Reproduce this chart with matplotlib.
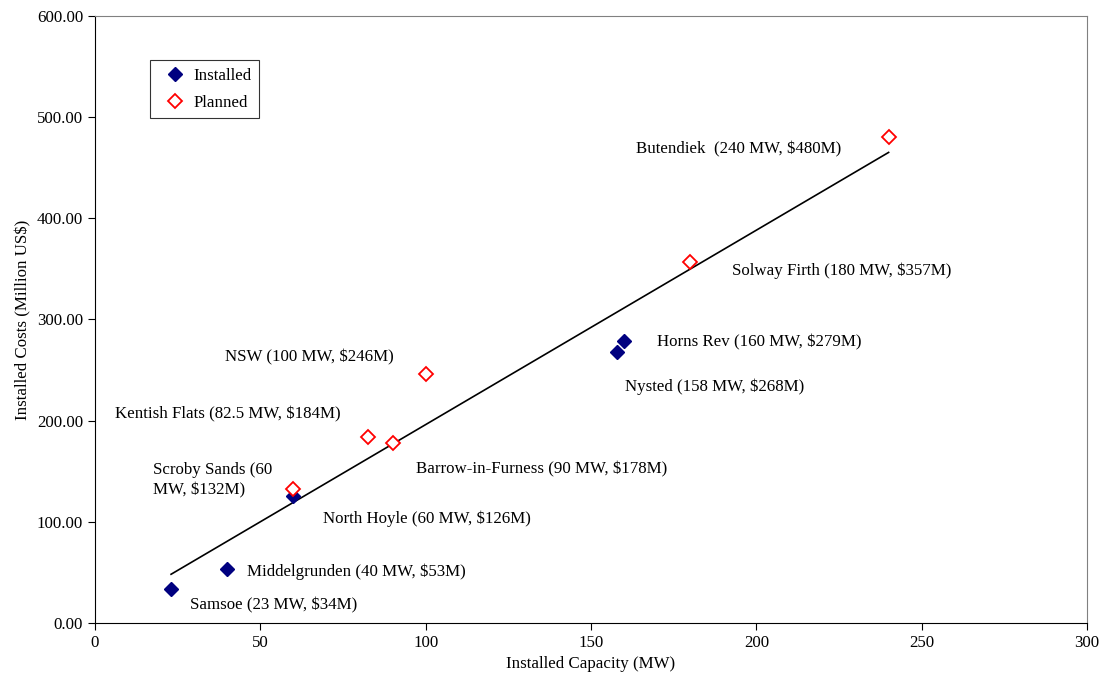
import matplotlib.pyplot as plt
import numpy as np

plt.rcParams['font.family'] = ['Liberation Serif', 'DejaVu Serif']

# installed wind farms
inst_cap = [23, 40, 60, 158, 160]
inst_cost = [34, 53, 126, 268, 279]

# planned wind farms
plan_cap = [60, 82.5, 90, 100, 180, 240]
plan_cost = [132, 184, 178, 246, 357, 480]

# labels: text, x, y (data coords of left edge / vertical centre)
labels = [
    ("Samsoe (23 MW, $34M)", 28.7, 17.8),
    ("Middelgrunden (40 MW, $53M)", 46, 50.4),
    ("North Hoyle (60 MW, $126M)", 68.9, 102.8),
    ("Nysted (158 MW, $268M)", 160.3, 233.3),
    ("Horns Rev (160 MW, $279M)", 170, 277.8),
    ("Scroby Sands (60\nMW, $132M)", 17.5, 141.3),
    ("Kentish Flats (82.5 MW, $184M)", 6, 206.6),
    ("Barrow-in-Furness (90 MW, $178M)", 97, 152),
    ("NSW (100 MW, $246M)", 39.3, 263),
    ("Solway Firth (180 MW, $357M)", 192.6, 348),
    ("Butendiek  (240 MW, $480M)", 163.6, 468.5),
]

FS = 12.2

fig = plt.figure(figsize=(11.01, 6.87), dpi=100)
ax = fig.add_axes([0.0863, 0.0932, 0.901, 0.8835])

# trend line over all points
all_cap = np.array(inst_cap + plan_cap)
all_cost = np.array(inst_cost + plan_cost)
m, b = np.polyfit(all_cap, all_cost, 1)
xs = np.array([min(all_cap), max(all_cap)])
ax.plot(xs, m * xs + b, color='black', linewidth=1.2, zorder=2)

ax.plot(inst_cap, inst_cost, 'D', color='#000080', markersize=7.5,
        linestyle='none', label='Installed', zorder=3)
ax.plot(plan_cap, plan_cost, 'D', markerfacecolor='white', markeredgecolor='#ff0000',
        markeredgewidth=1.3, markersize=7.5, linestyle='none', label='Planned', zorder=4)

for txt, x, y in labels:
    ax.text(x, y, txt, fontsize=FS, va='center', ha='left', linespacing=1.4)

ax.set_xlim(0, 300)
ax.set_ylim(0, 600)
ax.set_xticks(np.arange(0, 301, 50))
ax.set_yticks(np.arange(0, 601, 100))
ax.set_yticklabels(['%.2f' % v for v in np.arange(0, 601, 100)])
ax.tick_params(direction='out', labelsize=FS, length=5)

ax.spines['top'].set_color('#808080')
ax.spines['right'].set_color('#808080')

ax.set_xlabel('Installed Capacity (MW)', fontsize=FS)
ax.set_ylabel('Installed Costs (Million US$)', fontsize=FS)

leg = ax.legend(loc='upper left', bbox_to_anchor=(0.0554, 0.9275), borderaxespad=0,
                fontsize=FS, frameon=True, fancybox=False, edgecolor='black',
                handlelength=2.0, handletextpad=0.1, borderpad=0.45, labelspacing=0.65)
leg.get_frame().set_linewidth(0.8)

plt.savefig('out.png', dpi=100)
